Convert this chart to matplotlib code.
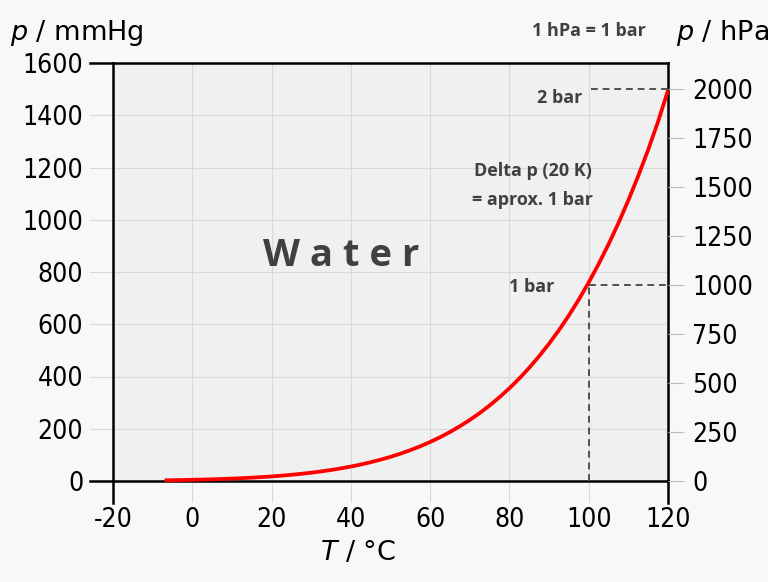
import matplotlib
matplotlib.use("Agg")
import matplotlib.pyplot as plt
import numpy as np

# Data (water vapour pressure)
temps_c = [-7, -5, -2.5, 0, 2.5, 5, 7.5, 10, 12.5, 15, 17.5, 20, 22.5, 25, 27.5,
           30, 32.5, 35, 37.5, 40, 42.5, 45, 47.5, 50, 52.5, 55, 57.5, 60, 62.5,
           65, 67.5, 70, 72.5, 75, 77.5, 80, 82.5, 85, 87.5, 90, 92.5, 95, 97.5,
           100, 102.5, 105, 107.5, 110, 112.5, 115, 117.5, 120]
p_mmhg = [2.6, 3.2, 3.8, 4.6, 5.5, 6.5, 7.8, 9.2, 10.9, 12.8, 15.0, 17.5,
          20.4, 23.8, 27.6, 31.8, 36.7, 42.2, 48.4, 55.3, 63.1, 71.9, 81.7,
          92.5, 104.6, 118.0, 132.9, 149.4, 167.5, 187.5, 209.6, 233.7, 260.0,
          289.1, 320.8, 355.1, 392.6, 433.6, 477.9, 525.8, 577.6, 633.9, 694.5,
          760.0, 830.5, 906.1, 987.4, 1074.6, 1168.0, 1268.0, 1376.0, 1495.0]

x_ticks = [-20, 0, 20, 40, 60, 80, 100, 120]
y_ticks = [0, 200, 400, 600, 800, 1000, 1200, 1400, 1600]
y2_ticks = [0, 250, 500, 750, 1000, 1250, 1500, 1750, 2000]
HPA_PER_MMHG = 1.33322

# reference guides (hPa)
one_bar_T, one_bar_p = 100, 1000
two_bar_T, two_bar_p = 100.6, 2000

fig = plt.figure(figsize=(7.68, 5.82), dpi=100, facecolor='#f8f8f8')
ax = fig.add_axes([113/768, 1-481/582, (668-113)/768, (481-63)/582])
ax.set_facecolor('#f0f0f0')
ax.set_xlim(-20, 120)
ax.set_ylim(0, 1600)

ax.set_xticks(x_ticks)
ax.set_yticks(y_ticks)
ax.set_xticklabels([str(v) for v in x_ticks])
ax.grid(True, color='#d8d8d8', lw=0.8)
ax.tick_params(axis='x', direction='out', length=15, width=0.8, color='#d8d8d8',
               pad=4, labelsize=19)
ax.tick_params(axis='y', direction='out', length=16.5, width=0.8, color='#d8d8d8',
               pad=5, labelsize=19)
for s in ax.spines.values():
    s.set_linewidth(1.8)
    s.set_color('black')
ax.set_axisbelow(True)

# extended axis lines (as in reference)
ext_x = 23/555
ext_y = 22/418
kw = dict(transform=ax.transAxes, color='black', lw=1.8, clip_on=False, zorder=5)
ax.plot([-ext_x, 0], [1, 1], **kw)
ax.plot([-ext_x, 0], [0, 0], **kw)
ax.plot([0, 0], [-ext_y, 0], **kw)
ax.plot([1, 1], [-ext_y, 0], **kw)

ax2 = ax.twinx()
ax2.set_ylim(0, 1600*HPA_PER_MMHG)
ax2.set_yticks(y2_ticks)
ax2.tick_params(axis='y', direction='out', length=11.5, width=0.8, color='#bbbbbb',
                pad=6, labelsize=19)
for s in ax2.spines.values():
    s.set_visible(False)

for lab in ax.get_xticklabels() + ax.get_yticklabels() + ax2.get_yticklabels():
    lab.set_fontstretch('condensed')

# guide lines
dkw = dict(color='#505050', lw=1.4, ls=(0, (3.5, 2.5)), zorder=3)
ax2.plot([two_bar_T, 120], [two_bar_p, two_bar_p], **dkw)
ax2.plot([one_bar_T, 120], [one_bar_p, one_bar_p], **dkw)
ax2.plot([one_bar_T, one_bar_T], [0, one_bar_p], **dkw)

ax2.plot(temps_c, np.array(p_mmhg)*HPA_PER_MMHG, color='#ff0000', lw=2.7,
         solid_capstyle='butt', solid_joinstyle='round', zorder=4, clip_on=False)

tc = '#404040'
ann = dict(family='Open Sans', weight='bold', color=tc)
fig.text(589/768, 1-31/582, '1 hPa = 1 bar', ha='center', va='center', fontsize=13, **ann)
fig.text(560/768, 1-98/582, '2 bar', ha='center', va='center', fontsize=13, **ann)
fig.text(533/768, 1-171/582, 'Delta p (20 K)', ha='center', va='center', fontsize=13, **ann)
fig.text(533/768, 1-200/582, '= aprox. 1 bar', ha='center', va='center', fontsize=13, **ann)
fig.text(532/768, 1-287/582, '1 bar', ha='center', va='center', fontsize=13, **ann)
fig.text(341/768, 1-256/582, 'W a t e r', ha='center', va='center', fontsize=27.5, **ann)

fig.text(10/768, 1-33/582, r'$p$ / mmHg', ha='left', va='center', fontsize=19.5)
fig.text(676/768, 1-33/582, r'$p$ / hPa', ha='left', va='center', fontsize=19.5)
fig.text(358/768, 1-553/582, r'$T$ / °C', ha='center', va='center', fontsize=19.5)

fig.savefig('out.png', dpi=100, facecolor=fig.get_facecolor())
